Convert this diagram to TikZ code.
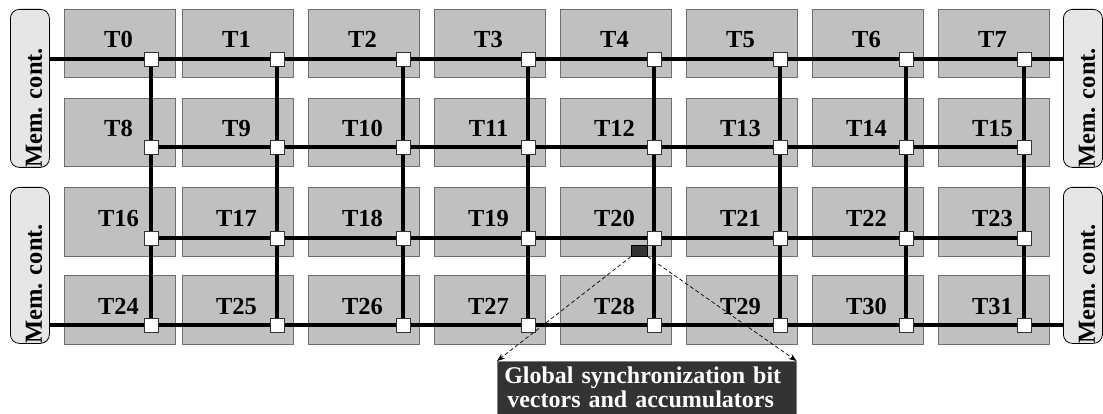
\documentclass[tikz,border=0pt]{standalone}
\usepackage{fontspec}
\setmainfont{Liberation Serif}
\usetikzlibrary{arrows.meta}
\pgfdeclarelayer{tiles}
\pgfdeclarelayer{wires}
\pgfsetlayers{tiles,wires,main}
\definecolor{tilegray}{HTML}{C0C0C0}
\definecolor{tileedge}{HTML}{6E6E6E}
\definecolor{memfill}{HTML}{E6E6E6}
\definecolor{syncdark}{HTML}{333333}
\begin{document}
\begin{tikzpicture}[x=1pt,y=-1pt,
  tile/.style={draw=tileedge, fill=tilegray, line width=0.8pt, minimum width=111pt, minimum height=68.5pt, inner sep=0pt, anchor=north west},
  tlabel/.style={font=\fontsize{24.5}{24}\selectfont\bfseries, anchor=base, inner sep=0pt},
  router/.style={draw=black!80, fill=white, line width=0.8pt, minimum size=14pt, inner sep=0pt},
  bus/.style={line width=3.5pt, black},
  memctl/.style={draw=black, fill=memfill, rounded corners=9pt, line width=0.8pt, minimum width=39pt, inner sep=0pt, anchor=north west},
  memtext/.style={font=\fontsize{24.5}{24}\selectfont\bfseries, rotate=90, anchor=west, inner sep=0pt},
  syncbox/.style={draw=black!50, fill=syncdark, text=white, line width=0.6pt, text width=285pt, minimum height=53pt, inner xsep=7pt, inner ysep=0pt, align=left, font=\fontsize{24}{24}\selectfont\bfseries},
  syncmark/.style={draw=black, fill=syncdark, line width=0.6pt, minimum width=16pt, minimum height=11pt, inner sep=0pt, anchor=north west},
  callarrow/.style={line width=0.7pt, dash pattern=on 4pt off 2.5pt, -{Stealth[length=8pt,width=6pt]}}
]
\useasboundingbox (0,0) rectangle (1103,414);

% memory controllers
\begin{pgfonlayer}{tiles}
\node[memctl, minimum height=158pt] (mL0) at (10,9) {};
\node[memctl, minimum height=156pt] (mL1) at (10,187) {};
\node[memctl, minimum height=158pt] (mR0) at (1063,9) {};
\node[memctl, minimum height=156pt] (mR1) at (1063,187) {};
\end{pgfonlayer}
\node[memtext] (mL0t) at (34,168) {Mem. cont.};
\node[memtext] (mL1t) at (34,344) {Mem. cont.};
\node[memtext] (mR0t) at (1087,168) {Mem. cont.};
\node[memtext] (mR1t) at (1087,344) {Mem. cont.};

% tiles, labels, routers
\foreach \c/\lx/\sx in {0/64/151,1/182/277,2/308/403,3/434/528,4/560/654,5/686/780,6/812/906,7/938/1024}{
  \foreach \r/\ty/\sy in {0/9/59,1/98/147,2/187/238,3/275/325}{
    \pgfmathtruncatemacro{\n}{8*\r+\c}
    \begin{pgfonlayer}{tiles}
      \node[tile] (t\n) at (\lx,\ty) {};
    \end{pgfonlayer}
    \node[tlabel] (l\n) at (\lx+54.5,\ty+39) {T\n};
    \node[router] (s\n) at (\sx,\sy) {};
  }
}

% interconnect
\begin{pgfonlayer}{wires}
\draw[bus] (mL0.east |- s0.center) -- (mR0.west |- s7.center);
\draw[bus] (s8.center) -- (s15.center);
\draw[bus] (s16.center) -- (s23.center);
\draw[bus] (mL1.east |- s24.center) -- (mR1.west |- s31.center);
\foreach \c in {0,...,7}{
  \pgfmathtruncatemacro{\b}{\c+24}
  \draw[bus] (s\c.center) -- (s\b.center);
}
\end{pgfonlayer}

% global synchronization
\node[syncmark] (gs) at (631,245) {};
\node[syncbox, anchor=north west] (sync) at (497,361) {Global synchronization bit\\\hspace*{3pt}vectors and accumulators};
\draw[callarrow] (gs.south west) -- (sync.north west);
\draw[callarrow] (gs.south east) -- (sync.north east);
\end{tikzpicture}
\end{document}
